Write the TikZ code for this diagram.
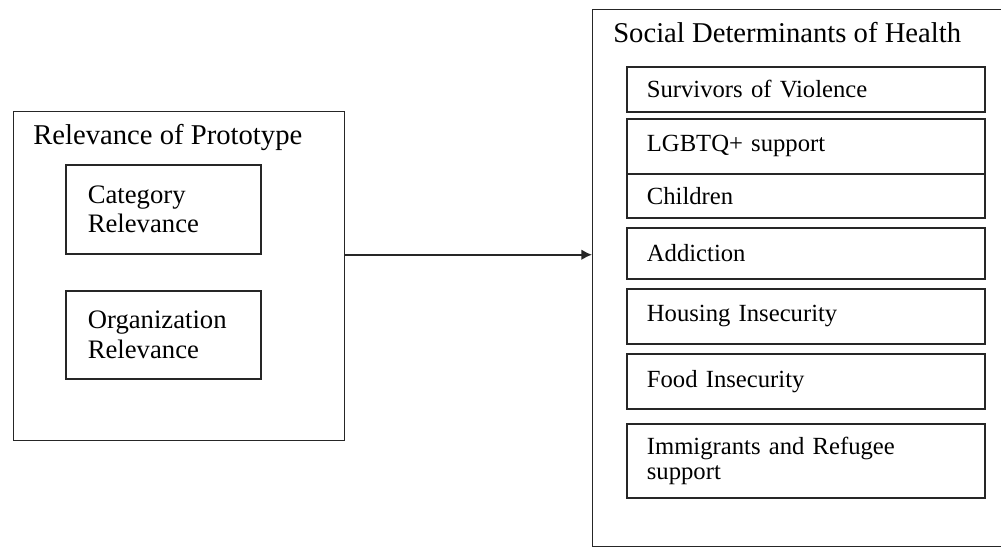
\documentclass[tikz,border=0pt]{standalone}
\usepackage{fontspec}
\setmainfont{Liberation Serif}
\usetikzlibrary{arrows.meta}

\tikzset{
	frame/.style={draw=black!85,line width=1pt,anchor=north west,inner sep=0pt},
	heading/.style={anchor=base west,inner sep=0pt,font=\fontsize{21.5pt}{23pt}\selectfont},
	catbox/.style={draw=black!85,line width=1.3pt,anchor=north west,minimum width=146.25pt,
		text width=113.25pt,inner xsep=16.5pt,inner ysep=0pt,align=left,
		font=\fontsize{20pt}{22pt}\selectfont},
	item/.style={draw=black!85,line width=1.3pt,anchor=north west,minimum width=268.5pt,
		text width=238.5pt,inner xsep=15pt,inner ysep=0pt,align=left,
		font=\fontsize{18.5pt}{19pt}\selectfont}
}

\begin{document}
\begin{tikzpicture}[x=0.75pt,y=-0.75pt]
	\useasboundingbox (0,0) rectangle (1001,548);
	% left side
	\node[frame,minimum width=248.25pt,minimum height=246.75pt] (relevance) at (13,111) {};
	\node[heading] (reltitle) at (33,145) {Relevance of Prototype};
	\node[catbox,minimum height=66.75pt] (cat) at (65,164) {Category\\Relevance};
	\node[catbox,minimum height=66pt] (org) at (65,290) {Organization\\Relevance};
	% right side
	\node[frame,minimum width=315pt,minimum height=402.75pt] (sdoh) at (592,9) {};
	\node[heading] (sdohtitle) at (613,43) {Social Determinants of Health};
	\foreach \n/\y/\h/\t in {
		surv/66/45/Survivors of Violence,
		lgbtq/118/55/LGBTQ+ support,
		child/173/44/Children,
		addict/227/51/Addiction,
		house/288/55/Housing Insecurity,
		food/353/55/Food Insecurity,
		immig/423/74/Immigrants and Refugee\\support}
		\node[item,minimum height=\h*0.75pt] (\n) at (626,\y) {\t};
	% connector
	\draw[line width=1.2pt,draw=black!85,-{Latex[length=8pt,width=8pt]}] (relevance.east |- cat.south) -- (sdoh.west |- cat.south);
\end{tikzpicture}
\end{document}
